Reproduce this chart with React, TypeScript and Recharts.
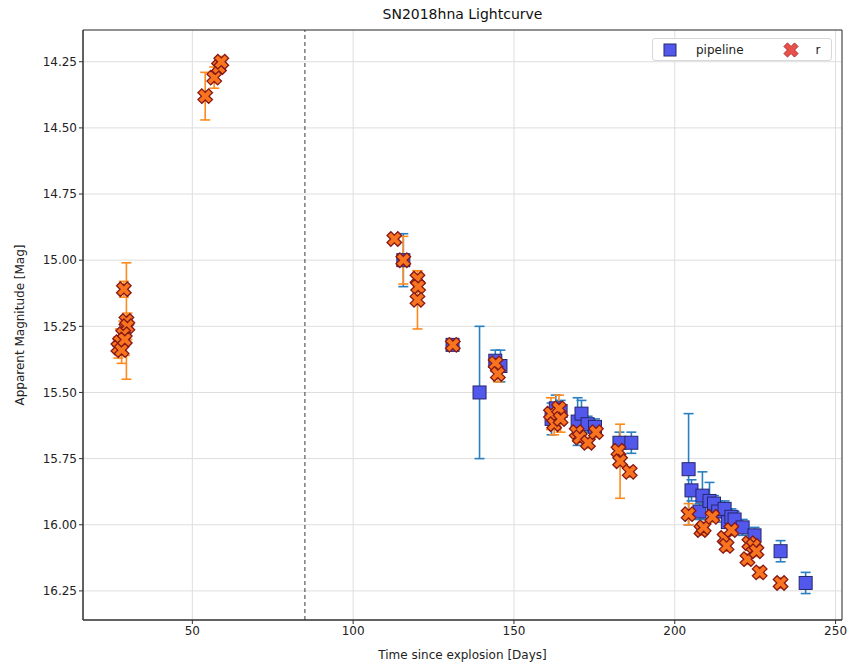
import React from 'react';
import { ScatterChart, Scatter, XAxis, YAxis, CartesianGrid, ErrorBar, ReferenceLine, ReferenceArea } from 'recharts';

document.body.style.margin = '0';

// pipeline photometry (days since explosion, magnitude, 1-sigma error)
const pipelineDays = [115.6, 130.9, 139.3, 144.2, 145.8, 161.7, 163.0, 164.5, 169.8, 171.0, 172.9, 175.2, 182.8, 186.5,
  204.3, 205.2, 207.7, 208.6, 210.8, 212.2, 213.5, 215.5, 216.5, 217.6, 218.6, 221.1, 224.8, 232.9, 240.7];
const pipelineMag = [15.00, 15.32, 15.50, 15.38, 15.40, 15.60, 15.56, 15.57, 15.61, 15.58, 15.62, 15.63, 15.69, 15.69,
  15.79, 15.87, 15.95, 15.89, 15.91, 15.92, 15.95, 15.94, 15.99, 15.97, 15.98, 16.01, 16.04, 16.10, 16.22];
const pipelineErr = [0.10, 0.02, 0.25, 0.04, 0.06, 0.06, 0.05, 0.04, 0.09, 0.05, 0.03, 0.03, 0.04, 0.04,
  0.21, 0.04, 0.03, 0.09, 0.07, 0.03, 0.04, 0.03, 0.05, 0.03, 0.03, 0.03, 0.03, 0.04, 0.04];

// r band photometry
const rDays = [29.5, 29.8, 28.7, 28.5, 27.5, 27.0, 28.0, 29.0,
  54.0, 56.8, 58.3, 59.0,
  112.8, 115.6, 120.0, 120.2, 120.0, 131.0, 144.3, 145.0,
  161.5, 162.5, 164.0, 164.5, 169.5, 170.5, 173.0, 175.5, 182.5, 183.0, 186.0,
  204.3, 208.3, 209.0, 211.7, 215.5, 216.1, 217.6, 222.6, 223.2, 224.5, 225.4, 226.4, 232.9];
const rMag = [15.23, 15.25, 15.11, 15.28, 15.31, 15.33, 15.34, 15.30,
  14.38, 14.31, 14.27, 14.25,
  14.92, 15.00, 15.07, 15.10, 15.15, 15.32, 15.39, 15.43,
  15.58, 15.62, 15.56, 15.60, 15.65, 15.67, 15.69, 15.65, 15.72, 15.76, 15.80,
  15.96, 16.02, 16.01, 15.97, 16.05, 16.08, 16.02, 16.13, 16.07, 16.08, 16.10, 16.18, 16.22];
const rErr = [0.22, 0.05, 0.03, 0.05, 0.05, 0.04, 0.05, 0.06,
  0.09, 0.04, 0.02, 0.02,
  0.01, 0.09, 0.03, 0.02, 0.11, 0.02, 0.03, 0.03,
  0.06, 0.04, 0.05, 0.05, 0.03, 0.02, 0.02, 0.02, 0.03, 0.14, 0.02,
  0.04, 0.02, 0.02, 0.02, 0.02, 0.02, 0.02, 0.02, 0.02, 0.02, 0.02, 0.02, 0.02];

const xTicks = [50, 100, 150, 200, 250];
const yTicks = [14.25, 14.5, 14.75, 15.0, 15.25, 15.5, 15.75, 16.0, 16.25];
const explosionMarker = 85;

const pipelineData = pipelineDays.map((d, i) => ({ day: d, mag: pipelineMag[i], err: pipelineErr[i] }));
const rData = rDays.map((d, i) => ({ day: d, mag: rMag[i], err: rErr[i] }));

const FONT = '"DejaVu Sans", sans-serif';

const Square = (props: any) => {
  const { cx, cy } = props;
  if (cx == null || cy == null) return null;
  const s = 13;
  return <rect x={cx - s / 2} y={cy - s / 2} width={s} height={s} fill="#5358ec" stroke="#26266e" strokeWidth={1} />;
};

// filled "X" marker like matplotlib's
function xPath(cx: number, cy: number, h: number, a: number) {
  const pts = [[a, h], [a, a], [h, a], [h, -a], [a, -a], [a, -h], [-a, -h], [-a, -a], [-h, -a], [-h, a], [-a, a], [-a, h]];
  const c = Math.SQRT1_2;
  return pts.map(([x, y], i) => {
    const rx = (x - y) * c;
    const ry = (x + y) * c;
    return `${i === 0 ? 'M' : 'L'}${(cx + rx).toFixed(2)},${(cy + ry).toFixed(2)}`;
  }).join(' ') + ' Z';
}

const Cross = (props: any) => {
  const { cx, cy } = props;
  if (cx == null || cy == null) return null;
  return <path d={xPath(cx, cy, 7.6, 2.7)} fill="#f8741e" stroke="#861818" strokeWidth={1.3} />;
};

export default function App() {
  return (
    <div style={{ position: 'relative', width: 854, height: 667, background: '#fff', fontFamily: FONT }}>
      <div style={{ position: 'absolute', top: 6, left: 83, width: 759, textAlign: 'center', fontSize: 14, color: '#111' }}>
        SN2018hna Lightcurve
      </div>
      <ScatterChart width={854} height={667} margin={{ top: 30, right: 12, bottom: 7, left: 12 }}>
        <CartesianGrid stroke="#dedede" />
        <XAxis
          type="number"
          dataKey="day"
          domain={[16, 252]}
          ticks={xTicks}
          allowDataOverflow
          height={40}
          tickSize={4}
          stroke="#333"
          tick={{ fill: '#222', fontSize: 12, fontFamily: FONT }}
          label={{ value: 'Time since explosion [Days]', position: 'insideBottom', offset: 1, fill: '#222', fontSize: 12, fontFamily: FONT }}
        />
        <YAxis
          type="number"
          dataKey="mag"
          reversed
          domain={[14.13, 16.36]}
          ticks={yTicks}
          allowDataOverflow
          width={71}
          tickSize={4}
          stroke="#333"
          tickFormatter={(v: number) => v.toFixed(2)}
          tick={{ fill: '#222', fontSize: 12, fontFamily: FONT }}
          label={{ value: 'Apparent Magnitude [Mag]', angle: -90, position: 'insideLeft', offset: 8, style: { textAnchor: 'middle' }, fill: '#222', fontSize: 12, fontFamily: FONT }}
        />
        <ReferenceArea x1={16} x2={252} y1={14.13} y2={16.36} fill="none" stroke="#333" strokeWidth={1} />
        <ReferenceLine x={explosionMarker} stroke="#3a3a3a" strokeDasharray="4 3" />
        <Scatter name="pipeline" data={pipelineData} shape={Square} isAnimationActive={false}>
          <ErrorBar dataKey="err" direction="y" width={5} stroke="#2a7fc0" strokeWidth={1.6} />
        </Scatter>
        <Scatter name="r" data={rData} shape={Cross} isAnimationActive={false}>
          <ErrorBar dataKey="err" direction="y" width={5} stroke="#ff8a1c" strokeWidth={1.6} />
        </Scatter>
      </ScatterChart>
      <div style={{ position: 'absolute', top: 38, left: 652, width: 180, height: 23, boxSizing: 'border-box', border: '1px solid #d8d8d8', borderRadius: 3, background: '#fff', display: 'flex', alignItems: 'center', fontSize: 12, color: '#222' }}>
        <svg width={14} height={14} style={{ marginLeft: 10 }}><rect x={1} y={1} width={12} height={12} fill="#5358ec" stroke="#26266e" /></svg>
        <span style={{ marginLeft: 19 }}>pipeline</span>
        <svg width={16} height={16} style={{ marginLeft: 39 }}><path d={xPath(8, 8, 7.5, 2.5)} fill="#e8504a" stroke="#b03030" /></svg>
        <span style={{ marginLeft: 17 }}>r</span>
      </div>
    </div>
  );
}
